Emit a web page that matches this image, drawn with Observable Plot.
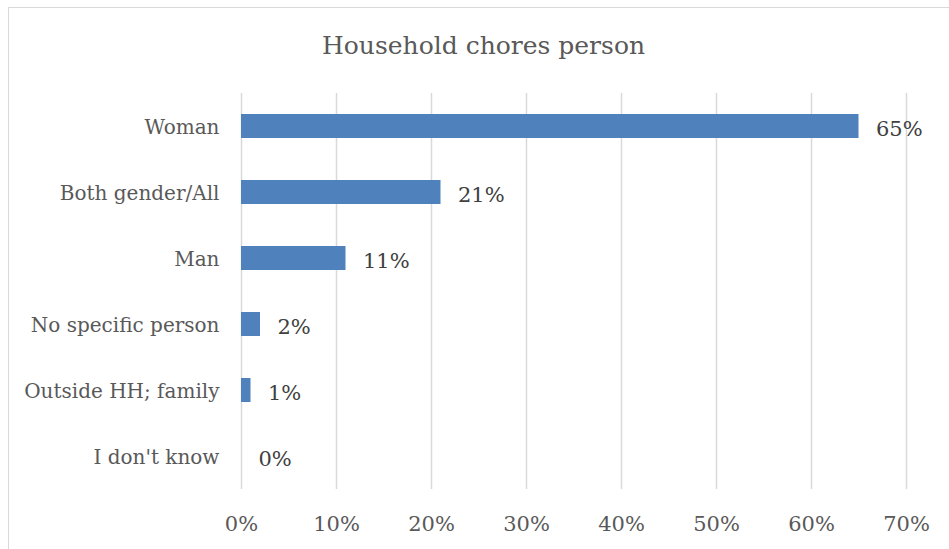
<!DOCTYPE html>
<html>
<head>
<meta charset="utf-8">
<script src="https://cdn.jsdelivr.net/npm/d3@7"></script>
<script src="https://cdn.jsdelivr.net/npm/@observablehq/plot@0.6"></script>
<style>
  html, body { margin: 0; padding: 0; background: #fff; }
  body { width: 949px; height: 549px; overflow: hidden; position: relative; font-family: "DejaVu Serif", serif; }
  #frame { position: absolute; left: 8px; top: 7px; width: 960px; height: 560px; border: 1px solid #d9d9d9; box-sizing: border-box; }
  #title { position: absolute; left: 0; top: 0; width: 967px; height: 80px; text-align: center; line-height: 92px; font-size: 25px; color: #595959; }
  #chart { position: absolute; left: 0; top: 80px; }
</style>
</head>
<body>
<div id="frame"></div>
<div id="title">Household chores person</div>
<div id="chart"></div>
<script>
const categories = ["Woman", "Both gender/All", "Man", "No specific person", "Outside HH; family", "I don't know"];
const values = [0.65, 0.21, 0.11, 0.02, 0.01, 0.00];
const tickValues = [0, 0.1, 0.2, 0.3, 0.4, 0.5, 0.6, 0.7];

const data = categories.map((c, i) => ({category: c, value: values[i]}));

const chart = Plot.plot({
  width: 949,
  height: 469,
  marginLeft: 241,
  marginRight: 43,
  marginTop: 13,
  marginBottom: 60,
  style: {fontFamily: "DejaVu Serif, serif", fontSize: "21px", color: "#595959", background: "transparent"},
  x: {domain: [0, 0.7], ticks: tickValues, tickFormat: d => Math.round(d * 100) + "%", label: null},
  y: {domain: categories, paddingInner: 0.64, paddingOuter: 0.32, label: null},
  marks: [
    Plot.gridX(tickValues, {stroke: "#d9d9d9", strokeOpacity: 1, strokeWidth: 1.5}),
    Plot.axisX({ticks: tickValues, tickSize: 0, tickPadding: 27, tickFormat: d => Math.round(d * 100) + "%", fill: "#595959", fontSize: 21, label: null}),
    Plot.axisY({tickSize: 0, tickPadding: 22, fill: "#595959", fontSize: 20, dy: 1, label: null}),
    Plot.barX(data, {x: "value", y: "category", fill: "#4f81bd"}),
    Plot.text(data, {x: "value", y: "category", text: d => Math.round(d.value * 100) + "%", textAnchor: "start", dx: 17, dy: 3, fill: "#404040", fontSize: 21})
  ]
});
document.getElementById("chart").appendChild(chart);
</script>
</body>
</html>
